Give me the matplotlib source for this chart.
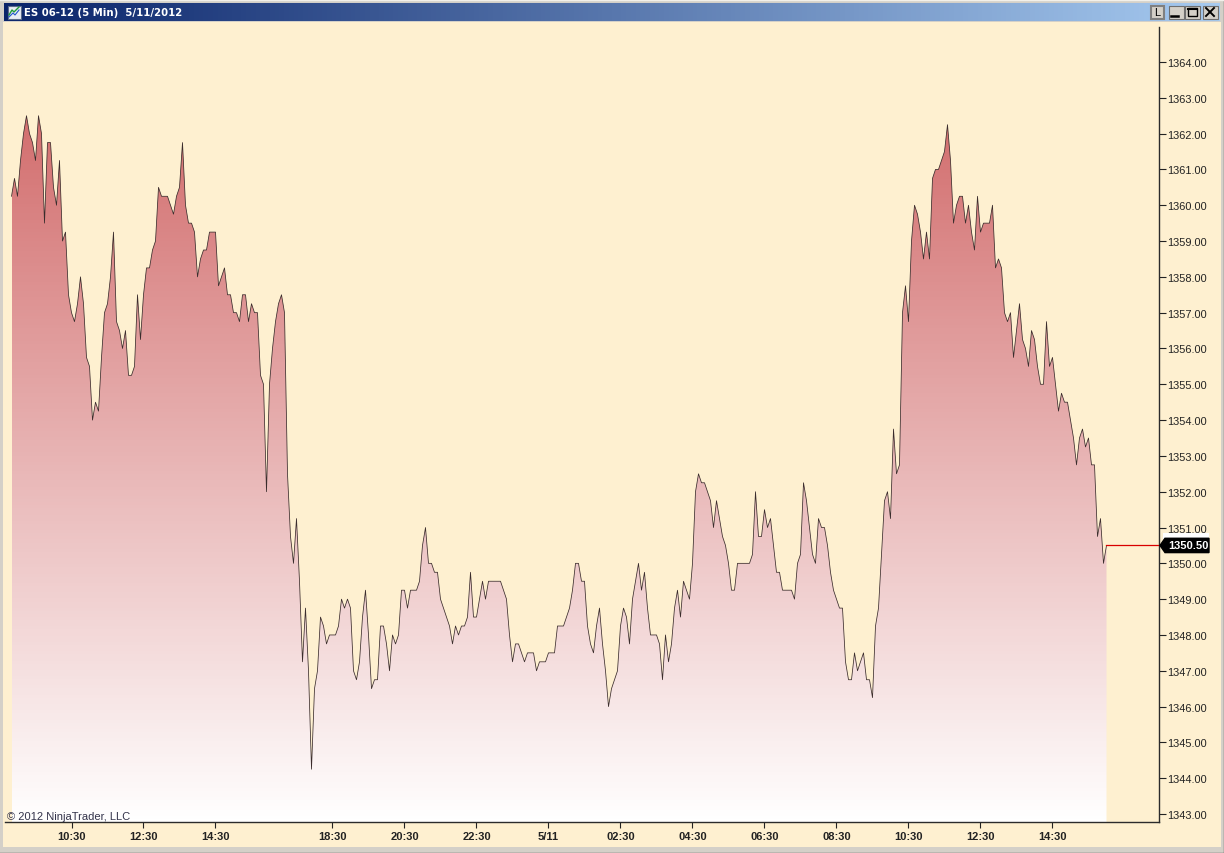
import numpy as np
import matplotlib as mpl
mpl.use('Agg')
from matplotlib import pyplot as plt
from matplotlib.patches import Polygon, Rectangle
from matplotlib.colors import LinearSegmentedColormap
from matplotlib.transforms import blended_transform_factory

# ES 06-12 5 min closes (0.25 tick size)
session_1 = [1360.25, 1360.75, 1360.25, 1361.25, 1362.0, 1362.5, 1362.0, 1361.75, 1361.25, 1362.5,
             1362.0, 1359.5, 1361.75, 1361.75, 1360.5, 1360.0, 1361.25, 1359.0, 1359.25, 1357.5,
             1357.0, 1356.75, 1357.25, 1358.0, 1357.25, 1355.75, 1355.5, 1354.0, 1354.5, 1354.25,
             1355.75, 1357.0, 1357.25, 1358.0, 1359.25, 1356.75, 1356.5, 1356.0, 1356.5, 1355.25,
             1355.25, 1355.5, 1357.5, 1356.25, 1357.5, 1358.25, 1358.25, 1358.75, 1359.0, 1360.5,
             1360.25, 1360.25, 1360.25, 1360.0, 1359.75, 1360.25, 1360.5, 1361.75, 1360.0, 1359.5,
             1359.5, 1359.25, 1358.0, 1358.5, 1358.75, 1358.75, 1359.25, 1359.25, 1359.25, 1357.75,
             1358.0, 1358.25, 1357.5, 1357.5, 1357.0, 1357.0, 1356.75, 1357.5, 1357.5, 1356.75,
             1357.25, 1357.0, 1357.0, 1355.25, 1355.0, 1352.0, 1355.0, 1356.0, 1356.75, 1357.25,
             1357.5, 1357.0, 1352.5, 1350.75, 1350.0, 1351.25]
session_2 = [1349.5, 1347.25, 1348.75, 1347.0, 1344.25, 1346.5, 1347.0, 1348.5, 1348.25, 1347.75,
             1348.0, 1348.0, 1348.0, 1348.25, 1349.0, 1348.75, 1349.0, 1348.75, 1347.0, 1346.75,
             1347.25, 1348.5, 1349.25, 1348.0, 1346.5, 1346.75, 1346.75, 1348.25, 1348.25, 1347.75,
             1347.0, 1348.0, 1347.75, 1348.0, 1349.25, 1349.25, 1348.75, 1349.25, 1349.25, 1349.25,
             1349.5, 1350.5, 1351.0, 1350.0, 1350.0, 1349.75, 1349.75, 1349.0, 1348.75, 1348.5,
             1348.25, 1347.75, 1348.25, 1348.0, 1348.25, 1348.25, 1348.5, 1349.75, 1348.5, 1348.5,
             1349.0, 1349.5, 1349.0, 1349.5, 1349.5, 1349.5, 1349.5, 1349.5, 1349.25, 1349.0,
             1348.0, 1347.25, 1347.75, 1347.75, 1347.5, 1347.25, 1347.5, 1347.5, 1347.5, 1347.0,
             1347.25, 1347.25, 1347.25, 1347.5]
session_3 = [1347.5, 1347.5, 1348.25, 1348.25, 1348.25, 1348.5, 1348.75, 1349.25, 1350.0, 1350.0,
             1349.5, 1349.5, 1348.25, 1347.75, 1347.5, 1348.25, 1348.75, 1347.75, 1347.0, 1346.0,
             1346.5, 1346.75, 1347.0, 1348.25, 1348.75, 1348.5, 1347.75, 1349.0, 1349.5, 1350.0,
             1349.25, 1349.75, 1348.75, 1348.0, 1348.0, 1348.0, 1347.75, 1346.75, 1348.0, 1347.25,
             1347.75, 1348.75, 1349.25, 1348.5, 1349.5, 1349.25, 1349.0, 1350.0, 1352.0, 1352.5,
             1352.25, 1352.25, 1352.0, 1351.75, 1351.0, 1351.75, 1351.25, 1350.75, 1350.5, 1350.0,
             1349.25, 1349.25, 1350.0, 1350.0, 1350.0, 1350.0, 1350.0, 1350.25, 1352.0, 1350.75,
             1350.75, 1351.5, 1351.0, 1351.25, 1350.5, 1349.75, 1349.75, 1349.25, 1349.25, 1349.25,
             1349.25, 1349.0, 1350.0, 1350.25, 1352.25, 1351.75, 1351.0, 1350.25, 1350.0, 1351.25,
             1351.0, 1351.0, 1350.5, 1349.75, 1349.25, 1349.0, 1348.75, 1348.75, 1347.25, 1346.75,
             1346.75, 1347.5, 1347.0, 1347.25, 1347.5, 1346.75, 1346.75, 1346.25]
session_4 = [1348.25, 1348.75, 1350.25, 1351.75, 1352.0, 1351.25, 1353.75, 1352.5, 1352.75, 1357.0,
             1357.75, 1356.75, 1359.0, 1360.0, 1359.75, 1359.25, 1358.5, 1359.25, 1358.5, 1360.75,
             1361.0, 1361.0, 1361.25, 1361.5, 1362.25, 1361.25, 1359.5, 1360.0, 1360.25, 1360.25,
             1359.5, 1360.0, 1359.25, 1358.75, 1360.25, 1359.25, 1359.5, 1359.5, 1359.5, 1360.0,
             1358.25, 1358.5, 1358.25, 1357.0, 1356.75, 1357.0, 1355.75, 1356.5, 1357.25, 1356.25,
             1356.0, 1355.5, 1356.5, 1356.25, 1355.5, 1355.0, 1355.0, 1356.75, 1355.5, 1355.75,
             1355.0, 1354.25, 1354.75, 1354.5, 1354.5, 1354.0, 1353.5, 1352.75, 1353.5, 1353.75,
             1353.25, 1353.5, 1352.75, 1352.75, 1350.75, 1351.25, 1350.0, 1350.5]
close = np.array(session_1 + session_2 + session_3 + session_4)
bars = np.arange(len(close))

x_tick_bars = [20, 44, 68, 107, 131, 155, 179, 203, 227, 251, 275, 299, 323, 347]
x_tick_labels = ['10:30', '12:30', '14:30', '18:30', '20:30', '22:30', '5/11', '02:30',
                 '04:30', '06:30', '08:30', '10:30', '12:30', '14:30']
y_ticks = list(range(1343, 1365))

W, H = 1224, 854
BG = '#fef0d0'
GREY = '#d4d0c8'

plt.rcParams['font.family'] = ['Liberation Sans', 'DejaVu Sans']
fig = plt.figure(figsize=(W / 100, H / 100), dpi=100, facecolor=GREY)

# window chrome, in pixels
pix = fig.add_axes([0, 0, 1, 1], zorder=0)
pix.set_xlim(0, W)
pix.set_ylim(H, 0)
pix.axis('off')
pix.add_patch(Rectangle((3, 23), W - 6, 825, fc=BG, ec='none'))
pix.plot([0, W], [853.5, 853.5], color='#555555', lw=1)
pix.plot([1223.5, 1223.5], [0, H], color='#555555', lw=1)
pix.plot([0, W], [0.5, 0.5], color='#f2f0ea', lw=1)
title_cmap = LinearSegmentedColormap.from_list('title', ['#0a246a', '#a6caf0'])
pix.imshow(np.linspace(0, 1, 256).reshape(1, -1), cmap=title_cmap, aspect='auto',
           extent=(4, W - 4, 22, 4))
pix.set_xlim(0, W)
pix.set_ylim(H, 0)
pix.text(24, 13.5, 'ES 06-12 (5 Min)  5/11/2012', color='white', fontsize=7.3,
         fontweight='bold', family='DejaVu Sans', va='center', ha='left')

# title bar icon and buttons
pix.add_patch(Rectangle((7.5, 6.5), 13, 13, fc='#e8ecf4', ec='#5a6a8a', lw=0.8))
pix.plot([9, 12, 14, 19], [16, 11, 13, 8], color='#1f9a3a', lw=1)
pix.plot([9, 13, 15, 19], [18, 14, 16, 11], color='#2255cc', lw=0.8)
pix.add_patch(Rectangle((1150.5, 6.5), 13, 13, fc='#d4d0c8', ec='#808080', lw=1.5))
pix.text(1157, 13.5, 'L', color='black', fontsize=8, ha='center', va='center')
for bx in [1168.5, 1184.5, 1202.5]:
    pix.add_patch(Rectangle((bx, 6.5), 15, 13, fc=GREY, ec='#6f6f6f', lw=0.8))
pix.plot([1171, 1178], [17, 17], color='black', lw=1.8)
pix.add_patch(Rectangle((1187.5, 9), 9, 8, fc='none', ec='black', lw=1))
pix.plot([1187.5, 1196.5], [9.5, 9.5], color='black', lw=1.5)
pix.plot([1206, 1214], [9, 17], color='black', lw=1.4)
pix.plot([1206, 1214], [17, 9], color='black', lw=1.4)

# price panel, y pixel = 63 + (1364 - price) * 35.81, x pixel = 11.5 + 3 * bar
left, right, top, bottom = 5, 1159, 28, 823
ax = fig.add_axes([left / W, 1 - bottom / H, (right - left) / W, (bottom - top) / H], zorder=2)
ax.patch.set_visible(False)
ax.set_xlim((left - 11.5) / 3, (right - 11.5) / 3)
ax.set_ylim(1364 - (bottom - 63) / 35.81, 1364 + (63 - top) / 35.81)

ymin, ymax = ax.get_ylim()
fill_cmap = LinearSegmentedColormap.from_list('fill', ['#ffffff', '#cd5c5c'])
grad = ax.imshow(np.linspace(1, 0, 256).reshape(-1, 1), cmap=fill_cmap, aspect='auto', vmin=0, vmax=1,
                 extent=(bars[0], bars[-1], ymin, ymax), zorder=1)
poly = Polygon(np.vstack([[bars[0], ymin], np.column_stack([bars, close]), [bars[-1], ymin]]),
               transform=ax.transData, fc='none', ec='none')
ax.add_patch(poly)
grad.set_clip_path(poly)
ax.set_xlim((left - 11.5) / 3, (right - 11.5) / 3)
ax.set_ylim(ymin, ymax)

ax.plot(bars, close, color='#3a2c2c', lw=0.55, zorder=3)
ax.plot([bars[-1], ax.get_xlim()[1]], [close[-1], close[-1]], color='#d80000', lw=0.9, zorder=3)

for s in ['top', 'left']:
    ax.spines[s].set_visible(False)
for s in ['right', 'bottom']:
    ax.spines[s].set_color('#2b2b2b')
    ax.spines[s].set_linewidth(1)
ax.yaxis.tick_right()
ax.set_yticks(y_ticks)
ax.set_yticklabels(['%.2f' % v for v in y_ticks])
ax.tick_params(axis='y', length=5, width=0.8, pad=0.8, labelsize=7.9, colors='#222222')
ax.set_xticks(x_tick_bars)
ax.set_xticklabels(x_tick_labels, fontweight='bold')
ax.tick_params(axis='x', length=4.3, width=0.8, pad=2.2, labelsize=8, colors='#222222')

ax.text(7, 817, '\u00a9 2012 NinjaTrader, LLC', transform=pix.transData, fontsize=8.05,
        color='#33334a', va='center', ha='left', zorder=5)

# last price marker on the scale
mark = blended_transform_factory(pix.transData, ax.transData)
last = close[-1]
ax.add_patch(Rectangle((1163, last + 0.17), 46, 0.17, transform=mark, fc='white', ec='none',
                       clip_on=False, zorder=4))
ax.add_patch(Polygon([(1160, last), (1165, last + 0.2), (1209, last + 0.2),
                      (1209, last - 0.2), (1165, last - 0.2)],
                     transform=mark, fc='black', ec='black', clip_on=False, zorder=5))
ax.text(1188, last, '%.2f' % last, transform=mark, color='white', fontsize=8, fontweight='bold',
        ha='center', va='center', clip_on=False, zorder=6)

fig.savefig('out.png', dpi=100, facecolor=GREY)
